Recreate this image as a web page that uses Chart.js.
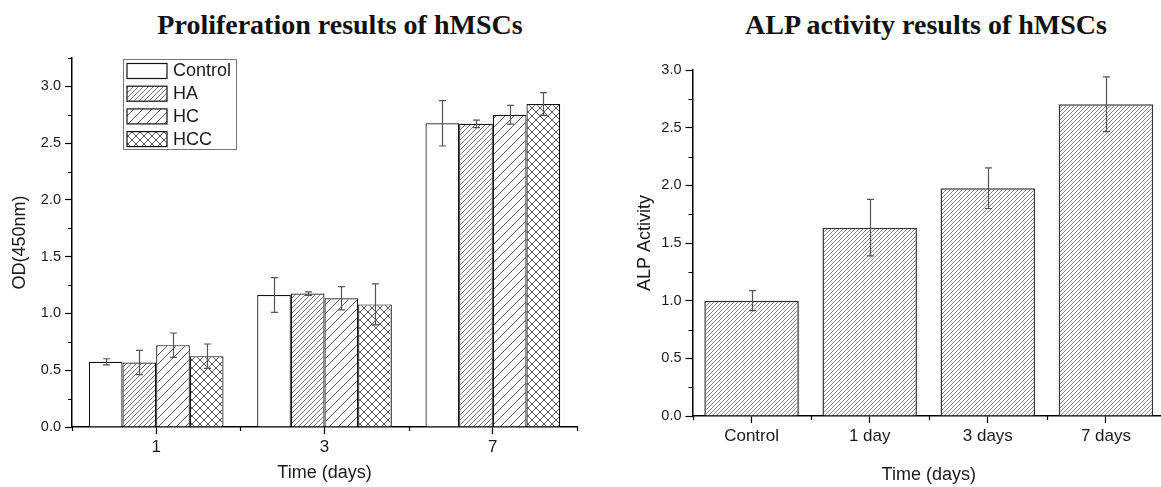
<!DOCTYPE html>
<html>
<head>
<meta charset="utf-8">
<script src="https://cdn.jsdelivr.net/npm/chart.js@4.4.1/dist/chart.umd.min.js"></script>
<style>
    html, body { margin: 0; padding: 0; width: 1161px; height: 487px; overflow: hidden; background: #fff; }
    .chart-title {
        position: absolute; top: 9px; width: 460px; text-align: center;
        font: bold 28px "Liberation Serif", "Times New Roman", serif; line-height: 32px; color: #111;
    }
    #prolifTitle { left: 110px; }
    #alpTitle { left: 696px; }
    canvas { position: absolute; top: 0; }
    #prolifCanvas { left: 0; }
    #alpCanvas { left: 620px; }
</style>
</head>
<body>
<div class="chart-title" id="prolifTitle">Proliferation results of hMSCs</div>
<div class="chart-title" id="alpTitle">ALP activity results of hMSCs</div>
<canvas id="prolifCanvas" width="580" height="487"></canvas>
<canvas id="alpCanvas" width="545" height="487"></canvas>
<script>
// --- data ---
const dayLabels = ['1', '3', '7'];
const controlOD = [0.574, 1.162, 2.675];
const controlErr = [0.027, 0.153, 0.2];
const haOD = [0.568, 1.175, 2.67];
const haErr = [0.107, 0.015, 0.033];
const hcOD = [0.721, 1.134, 2.75];
const hcErr = [0.107, 0.103, 0.082];
const hccOD = [0.624, 1.08, 2.845];
const hccErr = [0.107, 0.18, 0.1];

const alpLabels = ['Control', '1 day', '3 days', '7 days'];
const alpValues = [1.0, 1.633, 1.975, 2.703];
const alpErr = [0.087, 0.245, 0.176, 0.238];

const SANS = '"Liberation Sans", Arial, sans-serif';
const TEXT = '#1a1a1a';

// hatch patterns used as bar fills
function makeHatch(size, color, lineWidth, cross) {
    const c = document.createElement('canvas');
    c.width = size; c.height = size;
    const g = c.getContext('2d');
    g.fillStyle = '#fff';
    g.fillRect(0, 0, size, size);
    g.strokeStyle = color;
    g.lineWidth = lineWidth;
    g.beginPath();
    // "/" lines
    g.moveTo(0, size); g.lineTo(size, 0);
    g.moveTo(-size / 2, size / 2); g.lineTo(size / 2, -size / 2);
    g.moveTo(size / 2, size * 1.5); g.lineTo(size * 1.5, size / 2);
    if (cross) {
        // "\" lines
        g.moveTo(0, 0); g.lineTo(size, size);
        g.moveTo(-size / 2, size / 2); g.lineTo(size / 2, size * 1.5);
        g.moveTo(size / 2, -size / 2); g.lineTo(size * 1.5, size / 2);
    }
    g.stroke();
    return g.createPattern(c, 'repeat');
}

const whiteFill = '#ffffff';
const haFill = makeHatch(5, '#555', 0.8, false);
const hcFill = makeHatch(9, '#444', 0.9, false);
const hccFill = makeHatch(8, '#444', 0.9, true);
const alpFill = makeHatch(4, '#777', 0.9, false);

const errorBarPlugin = {
    id: 'errorBars',
    afterDatasetsDraw(chart, args, opts) {
        const { ctx } = chart;
        const yScale = chart.scales.y;
        ctx.save();
        ctx.strokeStyle = opts.color || '#555';
        ctx.lineWidth = 1.2;
        chart.data.datasets.forEach((ds, i) => {
            const meta = chart.getDatasetMeta(i);
            meta.data.forEach((bar, j) => {
                const v = ds.data[j];
                const e = ds.errors[j];
                const top = yScale.getPixelForValue(v + e);
                const bot = yScale.getPixelForValue(v - e);
                const x = Math.round(bar.x) + 0.5;
                const cap = opts.cap || 3.5;
                ctx.beginPath();
                ctx.moveTo(x, top); ctx.lineTo(x, bot);
                ctx.moveTo(x - cap, top); ctx.lineTo(x + cap, top);
                ctx.moveTo(x - cap, bot); ctx.lineTo(x + cap, bot);
                ctx.stroke();
            });
        });
        ctx.restore();
    }
};

// minor ticks: halfway between y majors, category boundaries on x
const minorTicksPlugin = {
    id: 'minorTicks',
    afterDraw(chart, args, opts) {
        const { ctx, chartArea, scales: { x, y } } = chart;
        ctx.save();
        ctx.strokeStyle = '#000';
        ctx.lineWidth = 1.2;
        ctx.beginPath();
        for (let v = opts.step / 2; v <= y.max + 1e-9; v += opts.step) {
            const py = Math.round(y.getPixelForValue(v)) + 0.5;
            ctx.moveTo(chartArea.left - 4, py);
            ctx.lineTo(chartArea.left, py);
        }
        for (let i = 0; i <= x.ticks.length; i++) {
            const px = Math.round(x.getPixelForValue(i - 0.5)) + 0.5;
            ctx.moveTo(px, chartArea.bottom);
            ctx.lineTo(px, chartArea.bottom + 4);
        }
        ctx.stroke();
        ctx.restore();
    }
};

const legendBoxPlugin = {
    id: 'legendBox',
    afterDraw(chart) {
        const { ctx, chartArea } = chart;
        const left = Math.round(chartArea.left + 51);
        const top = Math.round(chartArea.top + 1);
        const w = 113, h = 90;
        ctx.save();
        ctx.fillStyle = '#fff';
        ctx.fillRect(left, top, w, h);
        ctx.strokeStyle = '#777';
        ctx.lineWidth = 1;
        ctx.strokeRect(left + 0.5, top + 0.5, w, h);
        ctx.font = '18px ' + SANS;
        ctx.textBaseline = 'middle';
        chart.data.datasets.forEach((ds, i) => {
            const sy = top + 4.5 + i * 22.7;
            ctx.fillStyle = ds.backgroundColor;
            ctx.fillRect(left + 4, sy, 40, 15);
            ctx.strokeStyle = '#111';
            ctx.lineWidth = 1.2;
            ctx.strokeRect(left + 4, sy, 40, 15);
            ctx.fillStyle = TEXT;
            ctx.fillText(ds.label, left + 50, sy + 8);
        });
        ctx.restore();
    }
};

function axisOptions(yMax, yWidth, xHeight, titleLeftPad, xTitlePad, yTitle) {
    return {
        x: {
            offset: true,
            afterFit: s => { s.height = xHeight; },
            grid: { display: true, drawOnChartArea: false, offset: false, tickLength: 7, tickColor: '#000', tickWidth: 1.2 },
            border: { color: '#000', width: 1.5 },
            ticks: { color: TEXT, font: { family: SANS, size: 17 }, padding: 3, maxRotation: 0 },
            title: { display: true, text: 'Time (days)', color: TEXT, font: { family: SANS, size: 18 }, padding: { top: 0, bottom: xTitlePad } }
        },
        y: {
            min: 0,
            max: yMax,
            afterFit: s => { s.width = yWidth; },
            grid: { display: true, drawOnChartArea: false, tickLength: 7, tickColor: '#000', tickWidth: 1.2 },
            border: { color: '#000', width: 1.5 },
            ticks: {
                stepSize: 0.5,
                includeBounds: false,
                color: TEXT,
                font: { family: SANS, size: 14.5 },
                padding: 4,
                callback: v => v.toFixed(1)
            },
            title: { display: true, text: yTitle, color: TEXT, font: { family: SANS, size: 18 }, padding: { top: titleLeftPad, bottom: 0 } }
        }
    };
}

function barSet(label, data, errors, fill) {
    return {
        label: label,
        data: data,
        errors: errors,
        backgroundColor: fill,
        borderColor: '#111',
        borderWidth: 1.2,
        categoryPercentage: 0.8,
        barPercentage: 1.0
    };
}

new Chart(document.getElementById('prolifCanvas').getContext('2d'), {
    type: 'bar',
    data: {
        labels: dayLabels,
        datasets: [
            barSet('Control', controlOD, controlErr, whiteFill),
            barSet('HA', haOD, haErr, haFill),
            barSet('HC', hcOD, hcErr, hcFill),
            barSet('HCC', hccOD, hccErr, hccFill)
        ]
    },
    options: {
        responsive: false,
        animation: false,
        layout: { padding: { top: 58, right: 3, bottom: 0, left: 0 } },
        scales: axisOptions(3.25, 72, 60, 9, 3, 'OD(450nm)'),
        plugins: {
            legend: { display: false },
            tooltip: { enabled: false },
            errorBars: { color: '#555', cap: 3.5 },
            minorTicks: { step: 0.5 }
        }
    },
    plugins: [errorBarPlugin, minorTicksPlugin, legendBoxPlugin]
});

new Chart(document.getElementById('alpCanvas').getContext('2d'), {
    type: 'bar',
    data: {
        labels: alpLabels,
        datasets: [{
            label: 'ALP Activity',
            data: alpValues,
            errors: alpErr,
            backgroundColor: alpFill,
            borderColor: '#333',
            borderWidth: 1.5,
            categoryPercentage: 0.8,
            barPercentage: 1.0
        }]
    },
    options: {
        responsive: false,
        animation: false,
        layout: { padding: { top: 70, right: 0, bottom: 0, left: 0 } },
        scales: axisOptions(3.0, 72.5, 71, 14, 1, 'ALP Activity'),
        plugins: {
            legend: { display: false },
            tooltip: { enabled: false },
            errorBars: { color: '#555', cap: 3.5 },
            minorTicks: { step: 0.5 }
        }
    },
    plugins: [errorBarPlugin, minorTicksPlugin]
});
</script>
</body>
</html>
